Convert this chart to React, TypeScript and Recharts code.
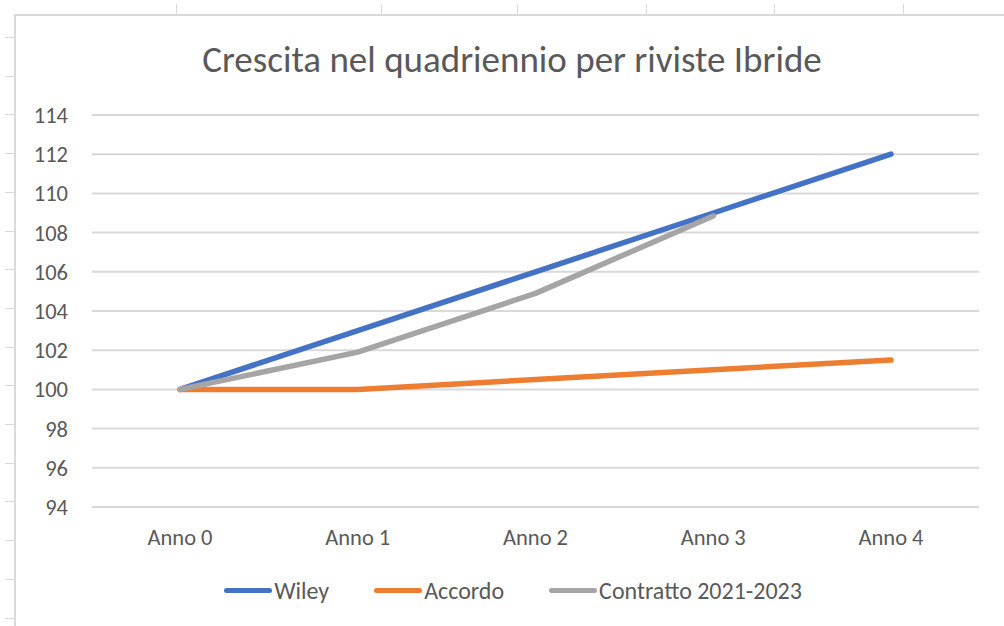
import React from "react";
import {
  LineChart,
  Line,
  XAxis,
  YAxis,
  CartesianGrid,
  Legend,
} from "recharts";

const categories = ["Anno 0", "Anno 1", "Anno 2", "Anno 3", "Anno 4"];
const wiley = [100, 103, 106, 109, 112];
const accordo = [100, 100, 100.5, 101, 101.5];
const contratto: (number | null)[] = [100, 101.9, 104.9, 108.85, null];
const yTicks = [94, 96, 98, 100, 102, 104, 106, 108, 110, 112, 114];

const seriesKeys = ["wiley", "accordo", "contratto"];
const seriesNames = ["Wiley", "Accordo", "Contratto 2021-2023"];
const seriesColors = ["#4472C4", "#ED7D31", "#A5A5A5"];

const data = categories.map((c, i) => ({
  name: c,
  wiley: wiley[i],
  accordo: accordo[i],
  contratto: contratto[i],
}));

const font = "Carlito, 'Liberation Sans Narrow', 'Open Sans', sans-serif";
const textColor = "#595959";
const gridColor = "#D9D9D9";

// sheet cell ticks around the chart frame
const topTicks = [176, 381, 517, 646, 774, 903];
const leftTicks = Array.from({ length: 16 }, (_, i) => 37 + i * 38.7);

const renderLegend = () => (
  <div style={{ display: "flex", justifyContent: "center", paddingLeft: 22 }}>
    {seriesNames.map((name, i) => (
      <div
        key={name}
        style={{
          display: "flex",
          alignItems: "center",
          marginRight: i < seriesNames.length - 1 ? 45 : 0,
        }}
      >
        <div
          style={{
            width: 48,
            height: 5,
            borderRadius: 3,
            background: seriesColors[i],
            marginRight: 2,
          }}
        />
        <span style={{ color: textColor, fontSize: 24, fontFamily: font }}>
          {name}
        </span>
      </div>
    ))}
  </div>
);

export default function App() {
  return (
    <div
      style={{
        position: "absolute",
        left: 0,
        top: 0,
        width: 1004,
        height: 626,
        background: "#fff",
        overflow: "hidden",
        fontFamily: font,
      }}
    >
      {/* chart frame */}
      <div
        style={{
          position: "absolute",
          left: 14,
          top: 14,
          width: 1100,
          height: 700,
          borderLeft: `2px solid ${gridColor}`,
          borderTop: `2px solid ${gridColor}`,
        }}
      />
      {topTicks.map((x) => (
        <div
          key={"t" + x}
          style={{
            position: "absolute",
            left: x,
            top: 4,
            width: 1,
            height: 11,
            background: gridColor,
          }}
        />
      ))}
      {leftTicks.map((y) => (
        <div
          key={"l" + y}
          style={{
            position: "absolute",
            left: 5,
            top: Math.round(y),
            width: 10,
            height: 1,
            background: gridColor,
          }}
        />
      ))}
      <div
        style={{
          position: "absolute",
          left: 0,
          width: 1024,
          top: 38,
          lineHeight: "44px",
          textAlign: "center",
          fontSize: 37,
          color: textColor,
          fontFamily: font,
        }}
      >
        Crescita nel quadriennio per riviste Ibride
      </div>
      <div style={{ position: "absolute", left: 0, top: 0 }}>
        <LineChart
          width={1004}
          height={626}
          data={data}
          margin={{ top: 115, right: 25, bottom: 50, left: 0 }}
        >
          <CartesianGrid
            vertical={false}
            stroke={gridColor}
            strokeWidth={2}
          />
          <XAxis
            dataKey="name"
            axisLine={false}
            tickLine={false}
            tickSize={0}
            tickMargin={22}
            padding={{ left: 88, right: 88 }}
            interval={0}
            tick={{ fill: textColor, fontSize: 22.5, fontFamily: font }}
            height={40}
          />
          <YAxis
            domain={[94, 114]}
            ticks={yTicks}
            width={92}
            axisLine={false}
            tickLine={false}
            tickSize={0}
            tickMargin={24}
            interval={0}
            tick={{ fill: textColor, fontSize: 22.5, fontFamily: font }}
          />
          <Legend
            content={renderLegend}
            wrapperStyle={{ top: 576, left: 0, width: 1004 }}
          />
          {seriesKeys.map((k, i) => (
            <Line
              key={k}
              dataKey={k}
              name={seriesNames[i]}
              stroke={seriesColors[i]}
              strokeWidth={5.5}
              strokeLinecap="round"
              strokeLinejoin="round"
              dot={false}
              isAnimationActive={false}
            />
          ))}
        </LineChart>
      </div>
    </div>
  );
}
